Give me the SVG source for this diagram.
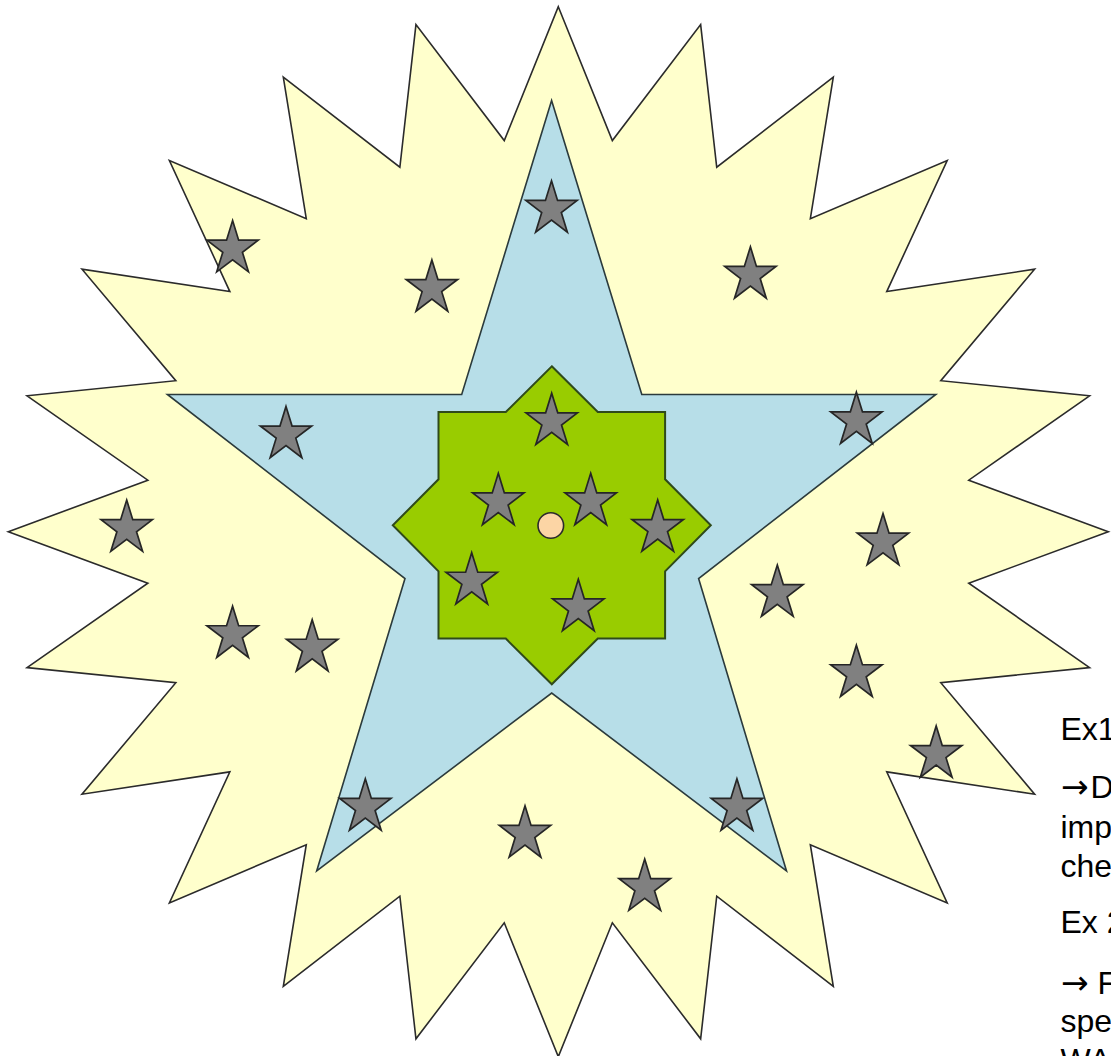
<svg xmlns="http://www.w3.org/2000/svg" xmlns:xlink="http://www.w3.org/1999/xlink" width="1111" height="1056" viewBox="0 0 1111 1056">
<style>
.burst{fill:#FFFFCC;stroke:#2b2b2b;stroke-width:1.6;stroke-linejoin:miter}
.pent{fill:#B7DEE8;stroke:#2b3a3c;stroke-width:1.6}
.oct{fill:#99CC00;stroke:#2f4a1a;stroke-width:2}
.dot{fill:#FCD5A5;stroke:#2b2b2b;stroke-width:1.6}
.gs{fill:#808080;stroke:#262626;stroke-width:1.7;stroke-linejoin:miter}
.t{font-family:"Liberation Sans",Arial,sans-serif;font-size:32px;fill:#000}
.ar{font-family:"DejaVu Sans",sans-serif;font-size:33px}
</style>
<defs>
<path id="star" d="M0,-28.35 L6.06,-8.76 L25.68,-8.76 L9.81,3.35 L15.87,22.93 L0,10.83 L-15.87,22.93 L-9.81,3.35 L-25.68,-8.76 L-6.06,-8.76 Z"/>
</defs>
<rect width="1111" height="1056" fill="#fff"/>
<g id="burst24">
<polygon class="burst" points="558.3,6.7 612.34,140.58 700.65,24.59 716.73,167.23 833.3,77.03 810.33,218.72 947.21,160.47 886.75,291.54 1034.62,269.2 940.79,380.73 1089.56,395.82 968.76,480.21 1108.3,531.7 968.76,583.19 1089.56,667.58 940.79,682.67 1034.62,794.2 886.75,771.86 947.21,902.93 810.33,844.68 833.3,986.37 716.73,896.17 700.65,1038.81 612.34,922.82 558.3,1056.7 504.26,922.82 415.95,1038.81 399.87,896.17 283.3,986.37 306.27,844.68 169.39,902.93 229.85,771.86 81.98,794.2 175.81,682.67 27.04,667.58 147.84,583.19 8.3,531.7 147.84,480.21 27.04,395.82 175.81,380.73 81.98,269.2 229.85,291.54 169.39,160.47 306.27,218.72 283.3,77.03 399.87,167.23 415.95,24.59 504.26,140.58"/>
</g>
<g id="star5">
<polygon class="pent" points="551.6,100.5 641.8,394.5 935.8,394.5 698.6,578.5 786.5,871 551.7,693 316.7,871 405,578.5 167.4,394.5 461.7,394.5"/>
</g>
<g id="star8">
<polygon class="oct" points="551.8,366.3 597.8,412 665.1,412 665.1,479.3 710.8,525.3 665.1,571.3 665.1,638.6 597.8,638.6 551.8,684.3 505.8,638.6 438.5,638.6 438.5,571.3 392.8,525.3 438.5,479.3 438.5,412 505.8,412"/>
</g>
<g id="center-dot">
<circle class="dot" cx="550.8" cy="525.5" r="12.8"/>
</g>
<g id="gray-stars">
<g id="s1"><use xlink:href="#star" href="#star" class="gs" transform="translate(551.7,421.6)"/></g>
<g id="s2"><use xlink:href="#star" href="#star" class="gs" transform="translate(498.3,501.7)"/></g>
<g id="s3"><use xlink:href="#star" href="#star" class="gs" transform="translate(590.7,501.7)"/></g>
<g id="s4"><use xlink:href="#star" href="#star" class="gs" transform="translate(657.7,528.3)"/></g>
<g id="s5"><use xlink:href="#star" href="#star" class="gs" transform="translate(471.7,581)"/></g>
<g id="s6"><use xlink:href="#star" href="#star" class="gs" transform="translate(578.3,607.7)"/></g>
<g id="s7"><use xlink:href="#star" href="#star" class="gs" transform="translate(232.6,248.9)"/></g>
<g id="s8"><use xlink:href="#star" href="#star" class="gs" transform="translate(431.9,288.3)"/></g>
<g id="s9"><use xlink:href="#star" href="#star" class="gs" transform="translate(286,434.8)"/></g>
<g id="s10"><use xlink:href="#star" href="#star" class="gs" transform="translate(551.5,209.2)"/></g>
<g id="s11"><use xlink:href="#star" href="#star" class="gs" transform="translate(126.7,528.4)"/></g>
<g id="s12"><use xlink:href="#star" href="#star" class="gs" transform="translate(750.4,275.2)"/></g>
<g id="s13"><use xlink:href="#star" href="#star" class="gs" transform="translate(856.4,420.6)"/></g>
<g id="s14"><use xlink:href="#star" href="#star" class="gs" transform="translate(883,541.9)"/></g>
<g id="s15"><use xlink:href="#star" href="#star" class="gs" transform="translate(232.6,634.5)"/></g>
<g id="s16"><use xlink:href="#star" href="#star" class="gs" transform="translate(312.2,648)"/></g>
<g id="s17"><use xlink:href="#star" href="#star" class="gs" transform="translate(365.3,807.2)"/></g>
<g id="s18"><use xlink:href="#star" href="#star" class="gs" transform="translate(525,834.2)"/></g>
<g id="s19"><use xlink:href="#star" href="#star" class="gs" transform="translate(777.3,593.4)"/></g>
<g id="s20"><use xlink:href="#star" href="#star" class="gs" transform="translate(856.4,673.5)"/></g>
<g id="s21"><use xlink:href="#star" href="#star" class="gs" transform="translate(936.2,754.3)"/></g>
<g id="s22"><use xlink:href="#star" href="#star" class="gs" transform="translate(736.9,807.2)"/></g>
<g id="s23"><use xlink:href="#star" href="#star" class="gs" transform="translate(644.7,887.4)"/></g>
</g>
<g id="connectors"></g>
<g id="notes">
<text class="t" x="1060.5" y="740">Ex1</text>
<text class="t" x="1061" y="798"><tspan class="ar">→</tspan><tspan x="1090.5">D</tspan></text>
<text class="t" x="1060.5" y="838">imp</text>
<text class="t" x="1060.5" y="877">che</text>
<text class="t" x="1060.5" y="933">Ex 2</text>
<text class="t" x="1061" y="994"><tspan class="ar">→</tspan><tspan x="1097.5">F</tspan></text>
<text class="t" x="1060.5" y="1032">spe</text>
<text class="t" x="1060.5" y="1071">WA</text>
</g>
</svg>
